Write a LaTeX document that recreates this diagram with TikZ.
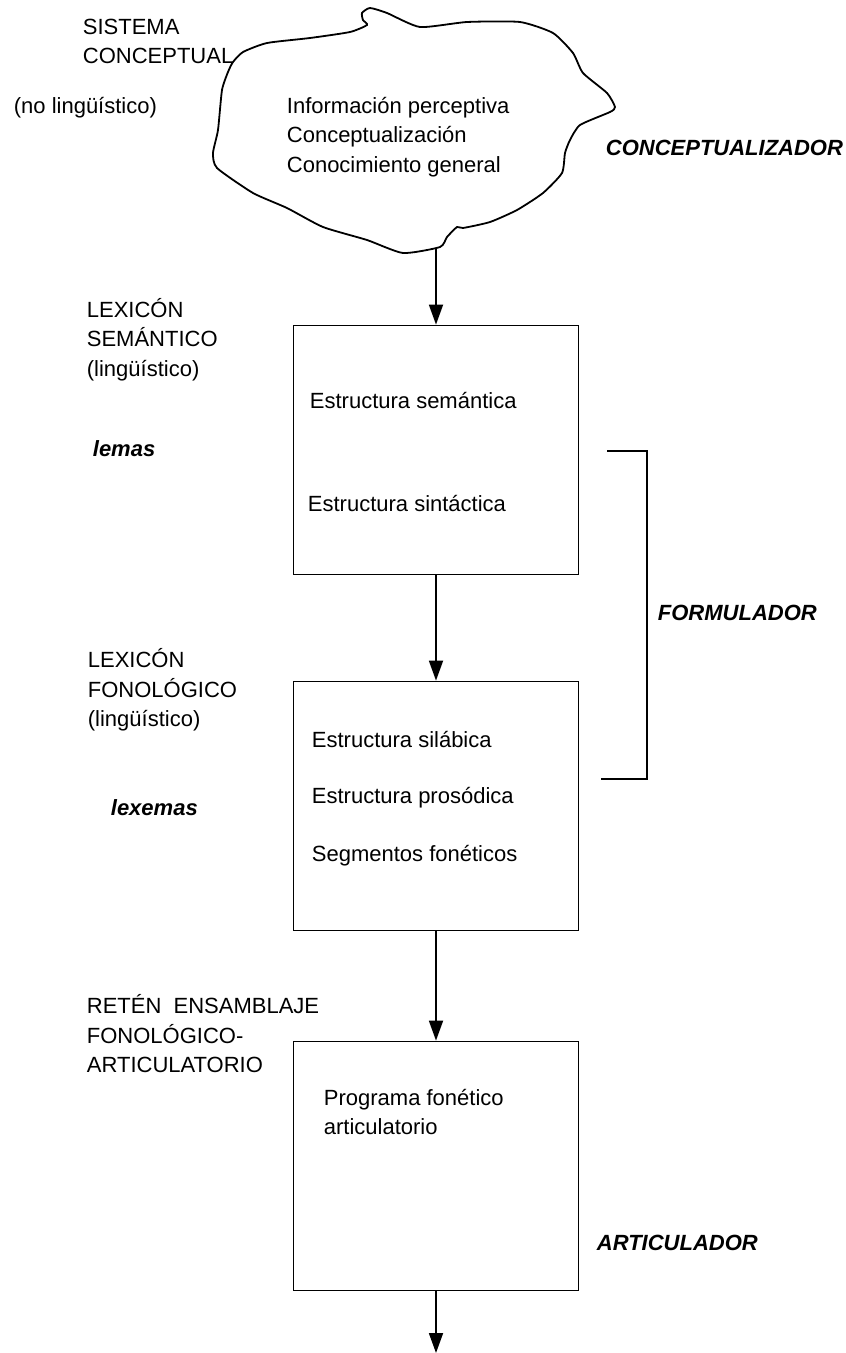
\documentclass[tikz,border=0pt]{standalone}
\usepackage{fontspec}
\setmainfont{Liberation Sans}
\usetikzlibrary{arrows.meta}

\begin{document}
\begin{tikzpicture}[x=1pt, y=-1pt, line width=1.8pt,
  >={Triangle[length=20pt, width=14pt]}]
\tikzstyle{every node} = [inner sep=0pt, align=left, font=\fontsize{22}{29.5}\selectfont]
\tikzstyle{caja} = [draw, minimum width=285pt, minimum height=249pt]
\tikzstyle{etiq} = [anchor=west]
\tikzstyle{modulo} = [anchor=west, font=\fontsize{22}{29.5}\selectfont\bfseries\itshape]
\useasboundingbox (0,0) rectangle (846,1353);

% nube del sistema conceptual
\draw plot[smooth cycle, tension=0.35] coordinates {
  (233,62) (243,52) (267,43) (310,38) (350,32) (367,25) (363,20) (362,13)
  (370,8) (387,13) (420,27) (467,22) (520,22) (553,33) (573,53) (583,73)
  (607,93) (615,107) (610,112) (580,125) (570,140) (565,153) (562,173)
  (543,193) (517,210) (490,222) (463,228) (457,227) (447,237) (440,247)
  (403,253) (367,240) (323,227) (287,208) (253,193) (217,168) (213,153)
  (218,130) (222,90) (228,72)};
\coordinate (nube) at (436,249);
\node[etiq] (info) at (286,137) {Información perceptiva\\Conceptualización\\Conocimiento general};

\node (sem) [caja] at (436,450) {};
\node (fon) [caja] at (436,806) {};
\node (art) [caja] at (436,1166) {};
\coordinate (salida) at (436,1353);

\node[etiq] (s1) at (309,400) {Estructura semántica};
\node[etiq] (s2) at (307,503) {Estructura sintáctica};
\node[etiq] (f1) at (311,739) {Estructura silábica};
\node[etiq] (f2) at (311,798) {Estructura prosódica};
\node[etiq] (f3) at (311,856) {Segmentos fonéticos};
\node[etiq] (a1) at (323,1112) {Programa fonético\\articulatorio};

% etiquetas de la izquierda
\node[etiq] (sist) at (82,41.5) {SISTEMA\\CONCEPTUAL};
\node[etiq] (noling) at (13,108) {(no lingüístico)};
\node[etiq] (lexsem) at (86,339.5) {LEXICÓN\\SEMÁNTICO\\(lingüístico)};
\node[modulo] (lemas) at (92,449) {lemas};
\node[etiq] (lexfon) at (87,690) {LEXICÓN\\FONOLÓGICO\\(lingüístico)};
\node[modulo] (lexemas) at (110,808) {lexemas};
\node[etiq] (reten) at (86,1034) {RETÉN\ \ ENSAMBLAJE\\FONOLÓGICO-\\ARTICULATORIO};

% modulos
\node[modulo] (concep) at (605,148) {CONCEPTUALIZADOR};
\node[modulo] (formul) at (657,613) {FORMULADOR};
\node[modulo] (artic) at (596,1243) {ARTICULADOR};
\draw (607,451) -- (647,451) -- (647,779) -- (601,779);

%\draw [->] (nube) -- (sem)
\foreach \from/\to in {nube/sem.north, sem.south/fon.north, fon.south/art.north, art.south/salida}
\draw [->] (\from) -- (\to);
\end{tikzpicture}
\end{document}
